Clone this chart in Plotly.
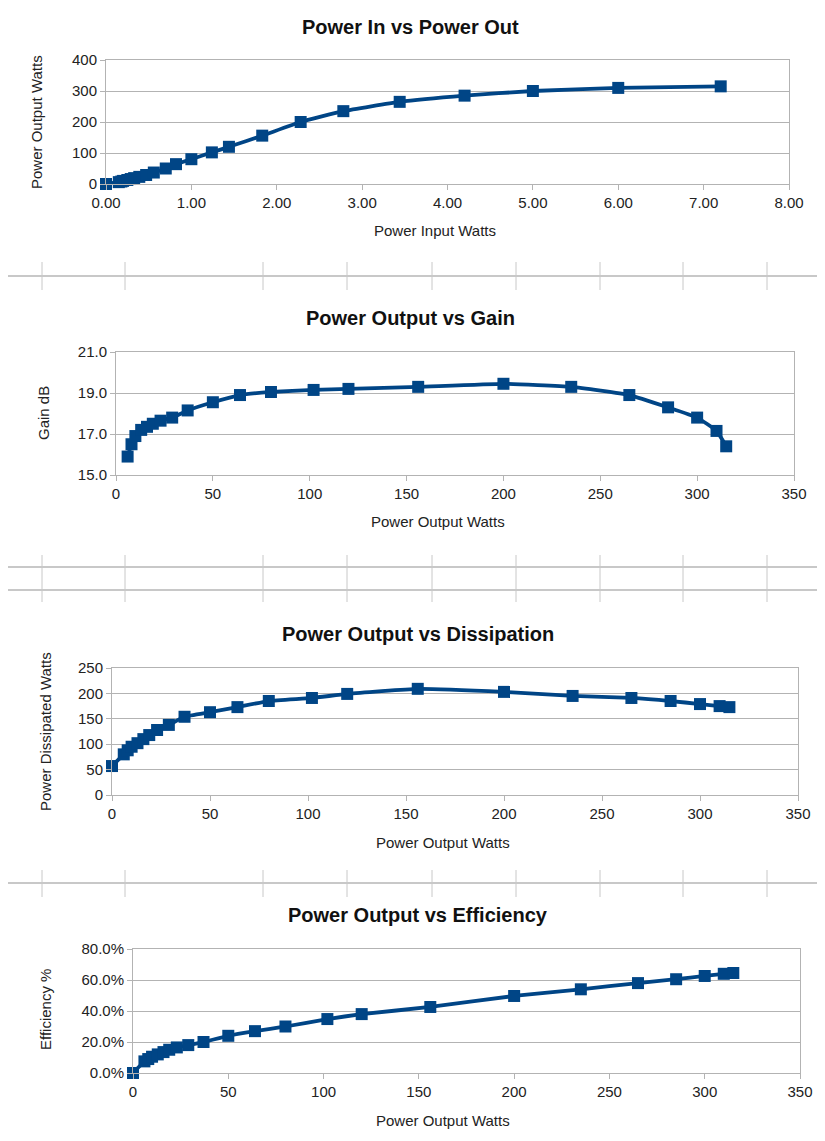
import plotly.graph_objects as go

# ---------------- data ----------------
power_in = [0, 0.15, 0.18, 0.20, 0.25, 0.29, 0.33, 0.39, 0.47, 0.56, 0.70, 0.82,
            1.00, 1.24, 1.44, 1.83, 2.28, 2.78, 3.44, 4.20, 5.00, 6.00, 7.20]
power_out = [0, 6, 8, 10, 13, 16, 19, 23, 29, 37, 50, 64,
             80, 102, 120, 156, 200, 235, 265, 285, 300, 310, 315]

gain_out = [6, 8, 10, 13, 16, 19, 23, 29, 37, 50, 64,
            80, 102, 120, 156, 200, 235, 265, 285, 300, 310, 315]
gain_db = [15.9, 16.5, 16.9, 17.2, 17.35, 17.5, 17.65, 17.8, 18.15, 18.55, 18.9,
           19.05, 19.15, 19.2, 19.3, 19.45, 19.3, 18.9, 18.3, 17.8, 17.15, 16.4]

diss_out = [0, 6, 8, 10, 13, 16, 19, 23, 29, 37, 50, 64,
            80, 102, 120, 156, 200, 235, 265, 285, 300, 310, 315]
diss_w = [57, 80, 88, 95, 102, 110, 118, 128, 138, 154, 163, 173,
          185, 191, 199, 209, 203, 195, 191, 185, 179, 175, 173]

eff_out = [0, 6, 8, 10, 13, 16, 19, 23, 29, 37, 50, 64,
           80, 102, 120, 156, 200, 235, 265, 285, 300, 310, 315]
eff_frac = [0.0, 0.075, 0.09, 0.105, 0.12, 0.135, 0.15, 0.165, 0.18, 0.20, 0.24, 0.27,
            0.30, 0.348, 0.38, 0.426, 0.497, 0.54, 0.58, 0.605, 0.626, 0.64, 0.645]

titles = ["Power In vs Power Out", "Power Output vs Gain",
          "Power Output vs Dissipation", "Power Output vs Efficiency"]
x_titles = ["Power Input Watts", "Power Output Watts", "Power Output Watts", "Power Output Watts"]
y_titles = ["Power Output Watts", "Gain dB", "Power Dissipated Watts", "Efficiency %"]

# ---------------- layout helpers ----------------
OFF = 8                      # page body margin
W, H = 825 - OFF, 1141 - 2 * OFF
BLUE = "#004586"
GRID = "#b3b3b3"
FONT = "Liberation Sans, Arial, sans-serif"


def fx(p):
    return (p - OFF) / W


def fy(p):
    return 1 - (p - OFF) / H


# plot-area pixel boxes in the reference: (left, right, top, bottom)
boxes = [(106, 789, 60, 184), (116, 794, 352, 475), (112, 798, 668, 795), (133, 800, 949, 1073)]
title_pos = [(410, 27), (410, 318), (418, 634), (418, 915)]
xt_pos = [(435, 230), (438, 521), (443, 842), (443, 1120)]
yt_pos = [(37, 122), (43, 413), (45, 732), (45, 1010)]

series = [(power_in, power_out), (gain_out, gain_db), (diss_out, diss_w), (eff_out, eff_frac)]
xranges = [[0, 8], [0, 350], [0, 350], [0, 350]]
xdticks = [1, 50, 50, 50]
xfmts = [".2f", "", "", ""]
yranges = [[0, 400], [15, 21], [0, 250], [0, 0.8]]
ytick0 = [0, 15, 0, 0]
ydticks = [100, 2, 50, 0.2]
yfmts = ["", ".1f", "", ".1%"]

fig = go.Figure()
annotations = []
for i in range(4):
    xs, ys = series[i]
    n = "" if i == 0 else str(i + 1)
    fig.add_trace(go.Scatter(
        x=xs, y=ys, mode="lines+markers",
        line=dict(color=BLUE, width=3.8, shape="spline", smoothing=0.4),
        marker=dict(symbol="square", size=12, color=BLUE),
        cliponaxis=False, showlegend=False,
        xaxis="x" + n, yaxis="y" + n))
    l, r, t, b = boxes[i]
    common = dict(showline=True, linecolor=GRID, linewidth=1, mirror=True,
                  ticks="outside", ticklen=5, tickcolor=GRID, automargin=False,
                  tickfont=dict(family=FONT, size=15, color="#222222"),
                  zeroline=False, fixedrange=True)
    fig.update_layout(**{
        "xaxis" + n: dict(domain=[fx(l), fx(r)], range=xranges[i], tick0=0, dtick=xdticks[i],
                          tickformat=xfmts[i], showgrid=False,
                          anchor="y" + n, **common),
        "yaxis" + n: dict(domain=[fy(b), fy(t)], range=yranges[i], tick0=ytick0[i], dtick=ydticks[i],
                          tickformat=yfmts[i], showgrid=True, gridcolor=GRID, gridwidth=1,
                          anchor="x" + n, **common),
    })
    annotations.append(dict(text="<b>" + titles[i] + "</b>", x=fx(title_pos[i][0]), y=fy(title_pos[i][1]),
                            xref="paper", yref="paper", showarrow=False,
                            xanchor="center", yanchor="middle",
                            font=dict(family=FONT, size=20, color="#111111")))
    annotations.append(dict(text=x_titles[i], x=fx(xt_pos[i][0]), y=fy(xt_pos[i][1]),
                            xref="paper", yref="paper", showarrow=False,
                            xanchor="center", yanchor="middle",
                            font=dict(family=FONT, size=15, color="#222222")))
    annotations.append(dict(text=y_titles[i], x=fx(yt_pos[i][0]), y=fy(yt_pos[i][1]),
                            xref="paper", yref="paper", showarrow=False, textangle=-90,
                            xanchor="center", yanchor="middle",
                            font=dict(family=FONT, size=15, color="#222222")))

# spreadsheet cell grid visible between the charts (decoration)
shapes = []
col_x = [42, 125, 263, 347, 432, 516, 600, 683, 767]


def hline(y):
    shapes.append(dict(type="line", xref="paper", yref="paper", x0=0, x1=1, y0=fy(y), y1=fy(y),
                       line=dict(color="#c8c8c8", width=2), layer="below"))


def vticks(y0, y1):
    for cx in col_x:
        shapes.append(dict(type="line", xref="paper", yref="paper", x0=fx(cx), x1=fx(cx),
                           y0=fy(y0), y1=fy(y1), line=dict(color="#c8c8c8", width=1), layer="below"))


hline(276)
vticks(262, 290)
hline(567)
hline(590)
vticks(555, 602)
hline(883)
vticks(870, 897)

fig.update_layout(width=W, height=H, margin=dict(l=0, r=0, t=0, b=0, autoexpand=False),
                  paper_bgcolor="white", plot_bgcolor="white",
                  annotations=annotations, shapes=shapes,
                  font=dict(family=FONT))

fig.write_html("out.html")
